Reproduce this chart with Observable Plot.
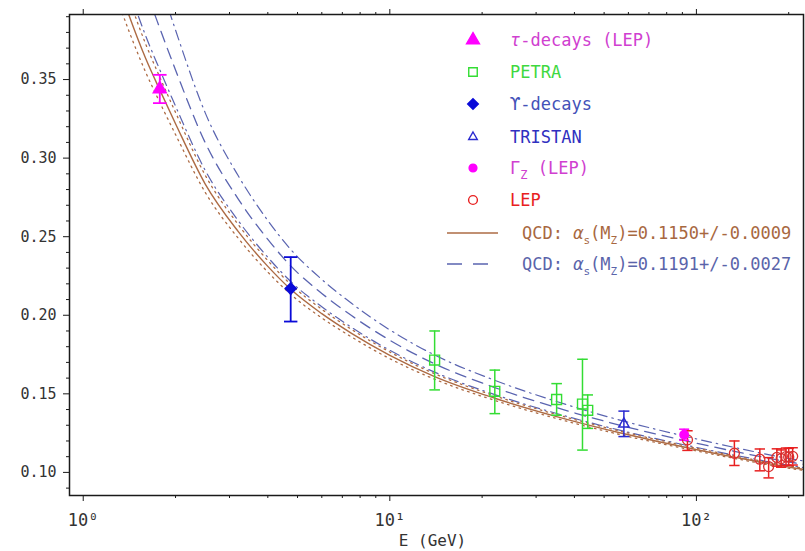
<!DOCTYPE html>
<html><head><meta charset="utf-8">
<script src="https://cdn.jsdelivr.net/npm/d3@7"></script>
<script src="https://cdn.jsdelivr.net/npm/@observablehq/plot@0.6"></script>
<style>body{margin:0;background:#fff} svg{display:block}</style>
</head><body><div id="chart"></div>
<script>
// ---- tick positions / labels ----
const xMajor = [1, 10, 100];
const xTickLabels = ["10⁰", "10¹", "10²"];
const xMinor = [2,3,4,5,6,7,8,9,20,30,40,50,60,70,80,90,200];
const yMajor = [0.10, 0.15, 0.20, 0.25, 0.30, 0.35];
const yMinor = [0.09,0.11,0.12,0.13,0.14,0.16,0.17,0.18,0.19,0.21,0.22,0.23,0.24,0.26,0.27,0.28,0.29,0.31,0.32,0.33,0.34,0.36,0.37,0.38,0.39];

// ---- QCD curves ----
const curveE     = [1.3, 1.41, 1.6, 1.78, 2.0, 2.5, 3.2, 4.0, 4.75, 6, 7.5, 10, 14, 22, 35, 58, 91, 133, 206, 225];
const qcd1150    = [0.4107,0.3909,0.3632,0.3431,0.3219,0.2835,0.2534,0.2311,0.2165,0.2010,0.1885,0.1745,0.1610,0.1472,0.1355,0.1246,0.1162,0.1097,0.1030,0.1019];
const qcd1150lo  = [0.3995,0.3808,0.3545,0.3352,0.3150,0.2782,0.2491,0.2275,0.2133,0.1983,0.1862,0.1724,0.1593,0.1458,0.1343,0.1235,0.1153,0.1089,0.1023,0.1012];
const qcd1150hi  = [0.4225,0.4016,0.3724,0.3512,0.3291,0.2891,0.2578,0.2348,0.2197,0.2038,0.1910,0.1766,0.1628,0.1487,0.1368,0.1257,0.1171,0.1105,0.1037,0.1026];
const qcd1191    = [0.4682,0.4427,0.4075,0.3823,0.3561,0.3098,0.2741,0.2483,0.2314,0.2139,0.1998,0.1841,0.1691,0.1540,0.1412,0.1294,0.1204,0.1134,0.1063,0.1051];
const qcd1191lo  = [0.4292,0.4077,0.3776,0.3559,0.3331,0.2922,0.2603,0.2369,0.2215,0.2054,0.1923,0.1777,0.1638,0.1495,0.1375,0.1262,0.1176,0.1110,0.1041,0.1030];
const qcd1191hi  = [0.5131,0.4826,0.4411,0.4117,0.3815,0.3288,0.2889,0.2603,0.2419,0.2228,0.2076,0.1907,0.1747,0.1586,0.1451,0.1326,0.1232,0.1159,0.1084,0.1072];

// ---- measurements ----
const tauE = [1.777], tauA = [0.344], tauLo = [0.335], tauHi = [0.353];
const upsE = [4.75], upsA = [0.217], upsLo = [0.196], upsHi = [0.237];
const petraE  = [14, 22, 35, 42.5, 44.2];
const petraA  = [0.1715, 0.1516, 0.1464, 0.1435, 0.1395];
const petraLo = [0.1525, 0.1374, 0.1364, 0.1142, 0.1280];
const petraHi = [0.1900, 0.1651, 0.1565, 0.1720, 0.1493];
const tristanE = [58], tristanA = [0.1308], tristanLo = [0.1228], tristanHi = [0.1390];
const gzE = [91.2], gzA = [0.1240], gzLo = [0.1205], gzHi = [0.1275];
const lepE  = [93.5, 133, 161, 172, 183, 189, 196, 200, 206];
const lepA  = [0.1207, 0.1122, 0.1084, 0.1037, 0.1095, 0.1088, 0.1100, 0.1098, 0.1102];
const lepLo = [0.1140, 0.1044, 0.1010, 0.0965, 0.1040, 0.1033, 0.1045, 0.1043, 0.1047];
const lepHi = [0.1265, 0.1200, 0.1149, 0.1094, 0.1150, 0.1143, 0.1155, 0.1153, 0.1157];

// ---- styling ----
const F = "DejaVu Sans Mono";
const BROWN = "#ad6b44", BLUE = "#5a64b0";
const MAG = "#ff00ff", GREEN = "#33dd33", DBLUE = "#0a0ad8", TBLUE = "#2a2ad0", RED = "#e82020";

const series = ys => curveE.map((e, i) => ({E: e, a: ys[i]}));
const rows = (E, A, LO, HI) => E.map((e, i) => ({E: e, a: A[i], lo: LO[i], hi: HI[i]}));
const cap = w => ({draw(ctx) { ctx.moveTo(-w, 0); ctx.lineTo(w, 0); }});

function errMarks(data, color, half, sw) {
  return [
    Plot.ruleX(data, {x: "E", y1: "lo", y2: "hi", stroke: color, strokeWidth: sw}),
    Plot.dot(data, {x: "E", y: "lo", r: 1, symbol: cap(half), stroke: color, strokeWidth: sw, fill: "none"}),
    Plot.dot(data, {x: "E", y: "hi", r: 1, symbol: cap(half), stroke: color, strokeWidth: sw, fill: "none"})
  ];
}

const tau = rows(tauE, tauA, tauLo, tauHi);
const ups = rows(upsE, upsA, upsLo, upsHi);
const petra = rows(petraE, petraA, petraLo, petraHi);
const tristan = rows(tristanE, tristanA, tristanLo, tristanHi);
const gz = rows(gzE, gzA, gzLo, gzHi);
const lep = rows(lepE, lepA, lepLo, lepHi);

const lineOpts = {x: "E", y: "a", curve: "monotone-x", clip: true};

const chart = Plot.plot({
  width: 805, height: 551,
  marginLeft: 69, marginRight: 2, marginTop: 14, marginBottom: 56,
  style: {fontFamily: F, fontSize: "15px", background: "#fff", color: "#222"},
  x: {type: "log", domain: [0.902, 223.5], label: null},
  y: {domain: [0.0853, 0.3914], label: null},
  marks: [
    Plot.line(series(qcd1191hi), {...lineOpts, stroke: BLUE, strokeWidth: 1.2, strokeDasharray: "10,5,1.5,5"}),
    Plot.line(series(qcd1191lo), {...lineOpts, stroke: BLUE, strokeWidth: 1.2, strokeDasharray: "10,5,1.5,5"}),
    Plot.line(series(qcd1191), {...lineOpts, stroke: BLUE, strokeWidth: 1.3, strokeDasharray: "11,7"}),
    Plot.line(series(qcd1150hi), {...lineOpts, stroke: BROWN, strokeWidth: 1.3, strokeDasharray: "1.6,4.4"}),
    Plot.line(series(qcd1150lo), {...lineOpts, stroke: BROWN, strokeWidth: 1.3, strokeDasharray: "1.6,4.4"}),
    Plot.line(series(qcd1150), {...lineOpts, stroke: BROWN, strokeWidth: 1.4}),
    ...errMarks(petra, GREEN, 5.3, 1.5),
    ...errMarks(lep, RED, 5.2, 1.5),
    ...errMarks(tristan, TBLUE, 5.5, 1.5),
    ...errMarks(gz, MAG, 5, 1.5),
    ...errMarks(tau, MAG, 6.8, 1.8),
    ...errMarks(ups, DBLUE, 6.7, 1.8),
    Plot.dot(petra, {x: "E", y: "a", symbol: "square", r: 5.6, stroke: GREEN, strokeWidth: 1.4, fill: "none"}),
    Plot.dot(lep, {x: "E", y: "a", symbol: "circle", r: 5, stroke: "#d83030", strokeWidth: 1.3, fill: "none"}),
    Plot.dot(tristan, {x: "E", y: "a", symbol: "triangle", r: 3.9, stroke: TBLUE, strokeWidth: 1.4, fill: "none"}),
    Plot.dot(gz, {x: "E", y: "a", symbol: "circle", r: 4.2, fill: MAG, stroke: MAG}),
    Plot.dot(tau, {x: "E", y: "a", symbol: "triangle", r: 4.8, fill: MAG, stroke: MAG}),
    Plot.dot(ups, {x: "E", y: "a", symbol: "diamond2", r: 5, fill: DBLUE, stroke: DBLUE}),
    Plot.frame({stroke: "#1a1a1a", strokeWidth: 1.5}),
    Plot.axisY({ticks: yMajor, tickSize: 6, tickPadding: 7, tickFormat: d => d.toFixed(2), fill: "#333", stroke: "#1a1a1a", fontSize: 15}),
    Plot.axisY({ticks: yMinor, tickSize: 3, tickFormat: () => "", stroke: "#1a1a1a"}),
    Plot.axisX({ticks: xMajor, tickSize: 6, tickPadding: 12, tickFormat: d => xTickLabels[xMajor.indexOf(d)], fill: "#333", stroke: "#1a1a1a", fontSize: 17}),
    Plot.axisX({ticks: xMinor, tickSize: 3, tickFormat: () => "", stroke: "#1a1a1a"}),
    Plot.axisX({anchor: "top", ticks: xMajor, tickSize: 6, tickFormat: () => "", stroke: "#1a1a1a"}),
    Plot.axisX({anchor: "top", ticks: xMinor, tickSize: 3, tickFormat: () => "", stroke: "#1a1a1a"}),
    Plot.text(["E (GeV)"], {frameAnchor: "bottom", dy: 50, dx: -4, fontSize: 16, fill: "#333"})
  ]
});

document.getElementById("chart").appendChild(chart);

// ---- legend ----
const svg = d3.select(chart);
const lg = svg.append("g").attr("font-family", F).attr("font-size", 17).attr("text-anchor", "start");
const mx = 473, tx = 510;
function sym(type, r, y, fill, stroke) {
  lg.append("path")
    .attr("d", d3.symbol(type, Math.PI * r * r)())
    .attr("transform", `translate(${mx},${y})`)
    .attr("fill", fill).attr("stroke", stroke).attr("stroke-width", 1.4);
}
function label(y, color, x = tx) {
  return lg.append("text").attr("x", x).attr("y", y).attr("dy", "0.36em").attr("fill", color).attr("text-anchor", "start");
}
sym(d3.symbolTriangle, 4.8, 40, MAG, MAG);
let t = label(40, "#d040d0");
t.append("tspan").attr("font-style", "italic").text("τ");
t.append("tspan").text("-decays (LEP)");

sym(d3.symbolSquare, 4.8, 72, "none", GREEN);
label(72, "#3fd83f").text("PETRA");

sym(d3.symbolDiamond2, 4.8, 104, DBLUE, DBLUE);
label(104, "#4452b8").text("ϒ-decays");

sym(d3.symbolTriangle, 3.2, 137, "none", TBLUE);
label(137, "#3030c0").text("TRISTAN");

sym(d3.symbolCircle, 3.9, 168, MAG, MAG);
t = label(168, "#d040d0");
t.append("tspan").text("Γ");
t.append("tspan").attr("font-size", 12).attr("dy", 5).text("Z");
t.append("tspan").attr("dy", -5).text(" (LEP)");

sym(d3.symbolCircle, 4.4, 200, "none", RED);
label(200, "#e82020").text("LEP");

function qcdLabel(y, color, val) {
  const tt = label(y, color, 522);
  tt.append("tspan").text("QCD: ");
  tt.append("tspan").attr("font-style", "italic").text("α");
  tt.append("tspan").attr("font-size", 11).attr("dy", 5).text("s");
  tt.append("tspan").attr("dy", -5).text("(M");
  tt.append("tspan").attr("font-size", 11).attr("dy", 5).text("Z");
  tt.append("tspan").attr("dy", -5).text(")=" + val);
}
lg.append("line").attr("x1", 447).attr("x2", 498).attr("y1", 233).attr("y2", 233)
  .attr("stroke", BROWN).attr("stroke-width", 1.4);
qcdLabel(233, "#a8683f", "0.1150+/-0.0009");
lg.append("line").attr("x1", 447).attr("x2", 488).attr("y1", 264).attr("y2", 264)
  .attr("stroke", BLUE).attr("stroke-width", 1.4).attr("stroke-dasharray", "15,11");
qcdLabel(264, "#5a64aa", "0.1191+/-0.0027");
</script>
</body></html>
